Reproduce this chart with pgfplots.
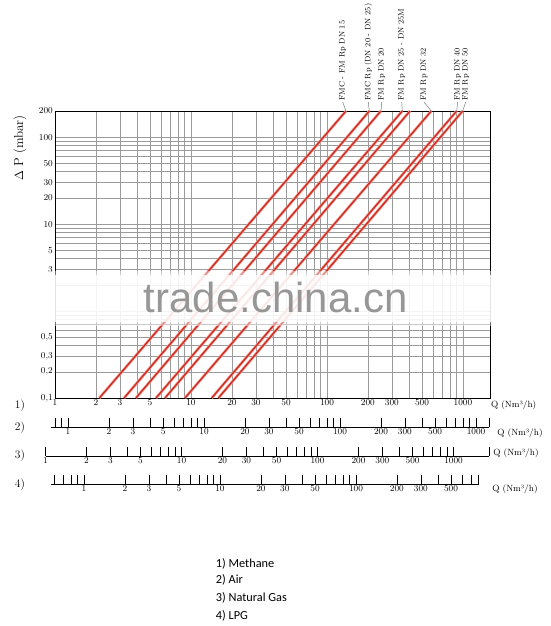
\documentclass[border=0pt]{standalone}
\usepackage{fontspec}
\newfontfamily\legendfont{Carlito}
\newfontfamily\wmfont{Liberation Sans}
\usepackage{pgfplots}
\pgfplotsset{compat=1.18}
\definecolor{gridc}{RGB}{155,155,155}
\definecolor{redc}{RGB}{205,45,35}
\definecolor{haloc}{RGB}{240,150,140}
\definecolor{wmc}{RGB}{140,140,140}
\definecolor{leadc}{RGB}{120,120,120}
\pgfplotsset{
  redl/.style={no marks, line width=1.3pt, color=redc},
  halo/.style={no marks, line width=2.7pt, color=haloc},
}
\begin{document}
\begin{tikzpicture}
\useasboundingbox (-55pt,-228pt) rectangle (495pt,398pt);
\begin{axis}[
  at={(0pt,0pt)}, anchor=south west,
  scale only axis, width=435pt, height=287pt,
  xmode=log, ymode=log,
  xmin=1, xmax=1580, ymin=0.1, ymax=200,
  xtick={1,2,3,4,5,6,7,8,9,10,20,30,40,50,60,70,80,90,100,200,300,400,500,600,700,800,900,1000},
  xticklabels={1,2,3,,5,,,,,10,20,30,,50,,,,,100,200,300,,500,,,,,1000},
  ytick={0.1,0.2,0.3,0.4,0.5,0.6,0.7,0.8,0.9,1,2,3,4,5,6,7,8,9,10,20,30,40,50,60,70,80,90,100,200},
  yticklabels={{0{,}1},{0{,}2},{0{,}3},,{0{,}5},,,,,,,3,,5,,,,,10,20,30,,50,,,,,100,200},
  major tick length=0pt,
  grid=major,
  major grid style={draw=gridc, line width=0.6pt},
  axis line style={black, line width=0.9pt},
  tick label style={font=\fontsize{9}{10}\selectfont},
  xticklabel style={inner sep=1.5pt},
  yticklabel style={inner sep=2pt},
]
\addplot[halo] coordinates {(2.12,0.1) (138,200)};
\addplot[halo] coordinates {(3.22,0.1) (205,200)};
\addplot[halo] coordinates {(3.94,0.1) (249,200)};
\addplot[halo] coordinates {(5.53,0.1) (358,200)};
\addplot[halo] coordinates {(6.44,0.1) (408,200)};
\addplot[halo] coordinates {(9.03,0.1) (585,200)};
\addplot[halo] coordinates {(14.2,0.1) (899,200)};
\addplot[halo] coordinates {(15.9,0.1) (995,200)};
\addplot[redl] coordinates {(2.12,0.1) (138,200)};
\addplot[redl] coordinates {(3.22,0.1) (205,200)};
\addplot[redl] coordinates {(3.94,0.1) (249,200)};
\addplot[redl] coordinates {(5.53,0.1) (358,200)};
\addplot[redl] coordinates {(6.44,0.1) (408,200)};
\addplot[redl] coordinates {(9.03,0.1) (585,200)};
\addplot[redl] coordinates {(14.2,0.1) (899,200)};
\addplot[redl] coordinates {(15.9,0.1) (995,200)};
\end{axis}
% watermark band
\fill[white, opacity=0.45] (-10pt,72pt) rectangle (447pt,127pt);
\fill[white, opacity=0.8] (-10pt,76pt) rectangle (447pt,123pt);
\node[anchor=base, inner sep=0, text=wmc, opacity=0.9, font=\wmfont\fontsize{42}{42}\selectfont] at (220.8pt,85pt) {trade.china.cn};
% air scale
\begin{axis}[at={(-4pt,-29.3pt)}, anchor=south west,
  scale only axis, width=438pt, height=12pt,
  xmode=log, xmin=0.75, xmax=1246, ymin=0, ymax=1,
  axis x line=bottom, axis y line=none, ytick=\empty,
  x axis line style={-, black, line width=0.7pt},
  xtick align=inside, major tick length=9.5pt,
  every tick/.style={black, line width=0.6pt},
  tick label style={font=\fontsize{9}{10}\selectfont},
  xticklabel style={inner sep=1.5pt}, clip=false,
  xtick={0.8,0.9,1,2,3,4,5,6,7,8,9,10,20,30,40,50,60,70,80,90,100,200,300,400,500,600,700,800,900,1000,1246},
  xticklabels={,,1,2,3,,5,,,,,10,20,30,,50,,,,,100,200,300,,500,,,,,1000,}]
\addplot[draw=none] coordinates {(1,0.5)};
\end{axis}
% natural gas scale
\begin{axis}[at={(-9.5pt,-58pt)}, anchor=south west,
  scale only axis, width=443.5pt, height=12pt,
  xmode=log, xmin=1, xmax=1824, ymin=0, ymax=1,
  axis x line=bottom, axis y line=none, ytick=\empty,
  x axis line style={-, black, line width=0.7pt},
  xtick align=inside, major tick length=9.5pt,
  every tick/.style={black, line width=0.6pt},
  tick label style={font=\fontsize{9}{10}\selectfont},
  xticklabel style={inner sep=1.5pt}, clip=false,
  xtick={1,2,3,4,5,6,7,8,9,10,20,30,40,50,60,70,80,90,100,200,300,400,500,600,700,800,900,1000,1824},
  xticklabels={1,2,3,,5,,,,,10,20,30,,50,,,,,100,200,300,,500,,,,,1000,}]
\addplot[draw=none] coordinates {(2,0.5)};
\end{axis}
% LPG scale
\begin{axis}[at={(-4pt,-86.3pt)}, anchor=south west,
  scale only axis, width=427.8pt, height=12pt,
  xmode=log, xmin=0.572, xmax=800, ymin=0, ymax=1,
  axis x line=bottom, axis y line=none, ytick=\empty,
  x axis line style={-, black, line width=0.7pt},
  xtick align=inside, major tick length=9.5pt,
  every tick/.style={black, line width=0.6pt},
  tick label style={font=\fontsize{9}{10}\selectfont},
  xticklabel style={inner sep=1.5pt}, clip=false,
  xtick={0.6,0.7,0.8,0.9,1,2,3,4,5,6,7,8,9,10,20,30,40,50,60,70,80,90,100,200,300,400,500,600,700,800},
  xticklabels={,,,,1,2,3,,5,,,,,10,20,30,,50,,,,,100,200,300,,500,,,}]
\addplot[draw=none] coordinates {(2,0.5)};
\end{axis}
% top labels
\begin{scope}[every node/.style={rotate=90, anchor=west, inner sep=0, font=\fontsize{7.8}{9}\selectfont}]
\node at (287.7pt,297pt) {FMC - FM Rp DN 15};
\node at (313.3pt,297pt) {FMC Rp (DN 20 - DN 25)};
\node at (326.7pt,297pt) {FM Rp DN 20};
\node at (346.7pt,297pt) {FM Rp DN 25 - DN 25M};
\node at (369pt,297pt) {FM Rp DN 32};
\node at (402.7pt,297pt) {FM Rp DN 40};
\node at (410.7pt,297pt) {FM Rp DN 50};
\end{scope}
\begin{scope}[draw=leadc, line width=0.5pt]
\draw (287.7pt,296pt) -- (291pt,287pt);
\draw (313.3pt,296pt) -- (314.3pt,287pt);
\draw (326.7pt,296pt) -- (326pt,287pt);
\draw (346.7pt,296pt) -- (347.3pt,287pt);
\draw (369pt,296pt) -- (376.3pt,287pt);
\draw (402.7pt,296pt) -- (401.7pt,287pt);
\draw (410.7pt,296pt) -- (407.7pt,287pt);
\end{scope}
% axis title
\node[rotate=90, inner sep=0, font=\fontsize{13}{15}\selectfont] at (-35pt,250pt) {$\Delta$ P (mbar)};
% row labels
\begin{scope}[every node/.style={inner sep=0, font=\fontsize{11.5}{13}\selectfont}]
\node at (-35pt,-8pt) {1)};
\node at (-35pt,-29.3pt) {2)};
\node at (-35pt,-58pt) {3)};
\node at (-35pt,-87pt) {4)};
\end{scope}
\begin{scope}[every node/.style={inner sep=0, font=\fontsize{9}{10}\selectfont}]
\node at (458.7pt,-7.7pt) {Q (Nm³/h)};
\node at (465pt,-35.3pt) {Q (Nm³/h)};
\node at (461pt,-55.3pt) {Q (Nm³/h)};
\node at (460pt,-91pt) {Q (Nm³/h)};
\end{scope}
% legend
\begin{scope}[every node/.style={anchor=base west, inner sep=0, font=\legendfont\fontsize{12.3}{14}\selectfont}]
\node at (160.7pt,-169.3pt) {1) Methane};
\node at (160.7pt,-185.7pt) {2) Air};
\node at (160.7pt,-203.7pt) {3) Natural Gas};
\node at (160.7pt,-221pt) {4) LPG};
\end{scope}
\end{tikzpicture}
\end{document}
